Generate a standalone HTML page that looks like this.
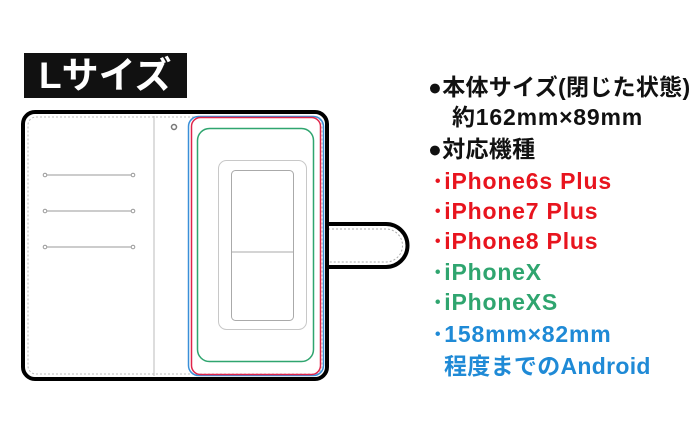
<!DOCTYPE html>
<html><head><meta charset="utf-8"><style>
html,body{margin:0;padding:0;background:#fff;}
body{width:700px;height:440px;position:relative;overflow:hidden;font-family:"Liberation Sans","Noto Sans CJK JP",sans-serif;}
.t{position:absolute;font-size:23px;font-weight:bold;white-space:nowrap;line-height:24px;letter-spacing:0.8px;}
</style></head><body>
<div style="position:absolute;left:24px;top:53px;width:163px;height:45px;background:#111;"></div>
<div class="t" style="left:39px;top:55px;color:#fff;font-size:37px;line-height:42px;letter-spacing:0;">Lサイズ</div>
<svg width="700" height="440" style="position:absolute;left:0;top:0">
  <path d="M327 224 H386 A21.5 21.5 0 0 1 386 267 H327" fill="#fff" stroke="#000" stroke-width="4"/>
  <path d="M328 229 H386 A16.5 16.5 0 0 1 386 262 H328" fill="none" stroke="#aaa" stroke-width="1" stroke-dasharray="2,2"/>
  <rect x="23" y="112" width="304" height="267" rx="12" fill="#fff" stroke="#000" stroke-width="4"/>
  <rect x="28" y="117" width="294" height="257" rx="8" fill="none" stroke="#bbb" stroke-width="1" stroke-dasharray="2,2"/>
  <line x1="154" y1="116" x2="154" y2="376" stroke="#bbb" stroke-width="1"/>
  <circle cx="174" cy="127" r="2.5" fill="none" stroke="#777" stroke-width="1.5"/>
  <g stroke="#999" stroke-width="1" fill="#fff">
    <line x1="45" y1="175" x2="133" y2="175"/><circle cx="45" cy="175" r="1.8"/><circle cx="133" cy="175" r="1.8"/>
    <line x1="45" y1="211" x2="133" y2="211"/><circle cx="45" cy="211" r="1.8"/><circle cx="133" cy="211" r="1.8"/>
    <line x1="45" y1="247" x2="133" y2="247"/><circle cx="45" cy="247" r="1.8"/><circle cx="133" cy="247" r="1.8"/>
  </g>
  <rect x="188.5" y="116.5" width="135" height="259" rx="10" fill="none" stroke="#3a8fd8" stroke-width="1.5"/>
  <rect x="191.5" y="117.5" width="129" height="257" rx="9" fill="none" stroke="#e0244a" stroke-width="1.5"/>
  <rect x="197.5" y="128.5" width="116" height="233" rx="12" fill="none" stroke="#2fa56f" stroke-width="1.5"/>
  <rect x="218.5" y="160.5" width="88" height="169" rx="8" fill="none" stroke="#c8c8c8" stroke-width="1"/>
  <rect x="231.5" y="170.5" width="62" height="150" rx="4" fill="none" stroke="#aaa" stroke-width="1"/>
  <line x1="232" y1="252" x2="293" y2="252" stroke="#aaa" stroke-width="1"/>
</svg>
<div class="t" style="left:428px;top:75px;color:#111;letter-spacing:0.3px;">●本体サイズ(閉じた状態)</div>
<div class="t" style="left:452px;top:105px;color:#111;">約162mm×89mm</div>
<div class="t" style="left:428px;top:137px;color:#111;letter-spacing:0.3px;">●対応機種</div>
<div class="t" style="left:432px;top:169px;color:#e8141e;">･iPhone6s Plus</div>
<div class="t" style="left:432px;top:199px;color:#e8141e;">･iPhone7 Plus</div>
<div class="t" style="left:432px;top:229px;color:#e8141e;">･iPhone8 Plus</div>
<div class="t" style="left:432px;top:260px;color:#2fa56f;">･iPhoneX</div>
<div class="t" style="left:432px;top:290px;color:#2fa56f;">･iPhoneXS</div>
<div class="t" style="left:432px;top:322px;color:#1f8ad6;">･158mm×82mm</div>
<div class="t" style="left:444px;top:354px;color:#1f8ad6;letter-spacing:0.3px;">程度までのAndroid</div>
</body></html>
